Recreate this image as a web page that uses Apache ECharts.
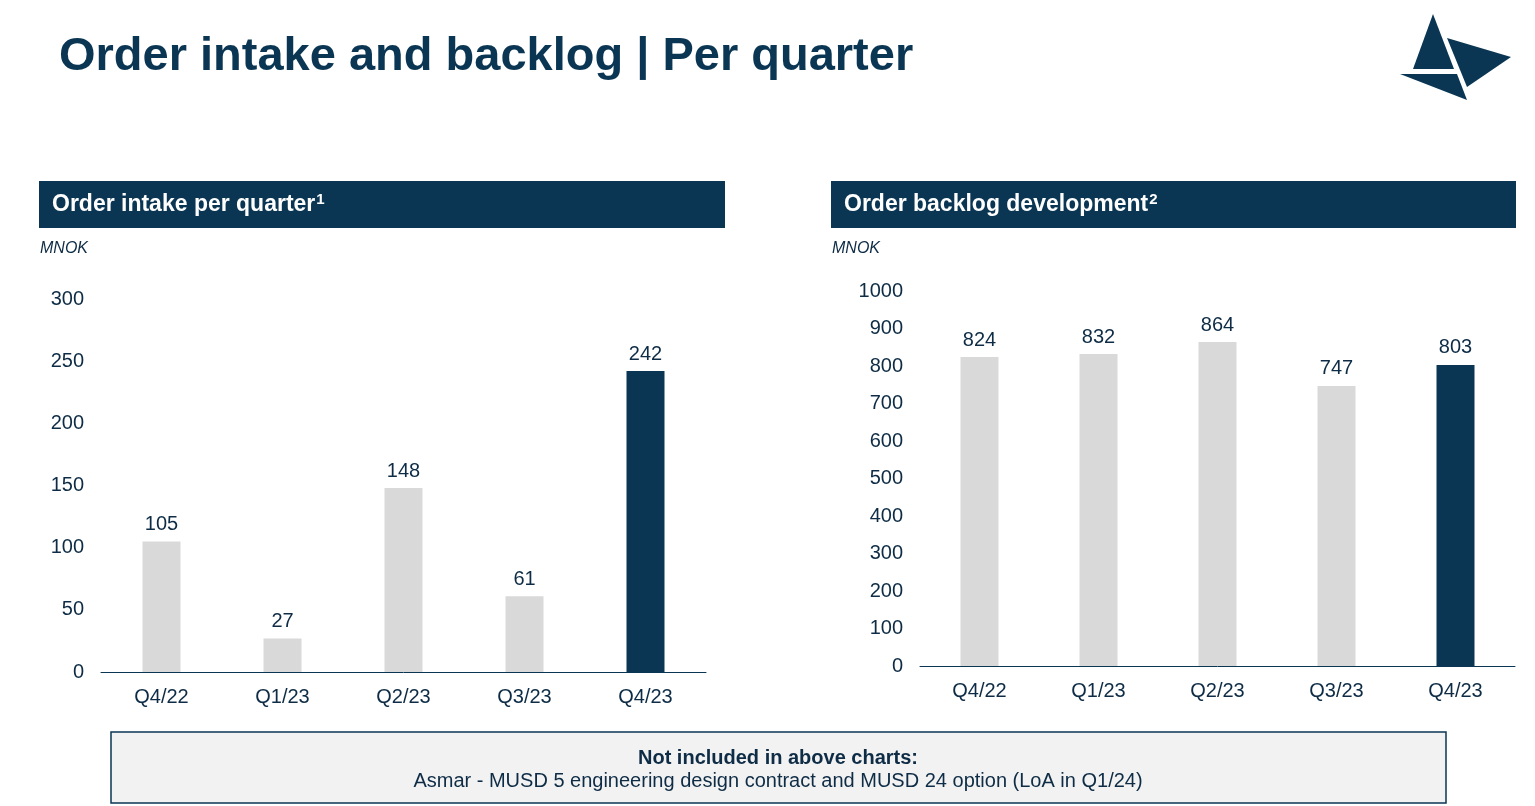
<!DOCTYPE html>
<html>
<head>
<meta charset="utf-8">
<title>Order intake and backlog</title>
<script src="https://cdn.jsdelivr.net/npm/echarts@6/dist/echarts.min.js"></script>
<style>
  html, body { margin: 0; padding: 0; background: #fff; }
  #main { width: 1535px; height: 806px; }
</style>
</head>
<body>
<div id="main"></div>
<script>
// data
var quarters = ['Q4/22', 'Q1/23', 'Q2/23', 'Q3/23', 'Q4/23'];
var orderIntake = [105, 27, 148, 61, 242];
var orderBacklog = [824, 832, 864, 747, 803];
var intakeTicks = [0, 300, 50];   // min, max, interval
var backlogTicks = [0, 1000, 100];

var NAVY = '#0a3653';
var GREY = '#d9d9d9';
var TXT = '#0e2c45';
var FONT = '"Liberation Sans", Arial, sans-serif';

function barData(vals) {
  // last quarter highlighted in navy
  return vals.map(function (v, i) {
    return { value: v, itemStyle: { color: i === vals.length - 1 ? NAVY : GREY } };
  });
}

function header(x, w, txt, sup) {
  return [
    { type: 'rect', shape: { x: x, y: 181, width: w, height: 47 }, style: { fill: NAVY }, silent: true },
    { type: 'text', x: x + 13, y: 205, style: {
        text: '{m|' + txt + '}{s|' + sup + '}',
        rich: {
          m: { fontFamily: FONT, fontWeight: 'bold', fontSize: 23, fill: '#fff' },
          s: { fontFamily: FONT, fontWeight: 'bold', fontSize: 15, fill: '#fff', verticalAlign: 'top', padding: [0, 0, 10, 1] }
        },
        verticalAlign: 'middle'
      } },
    { type: 'text', x: x + 1, y: 249, style: { text: 'MNOK', fontFamily: FONT, fontStyle: 'italic', fontSize: 16, fill: TXT, verticalAlign: 'middle' } }
  ];
}

var chart = echarts.init(document.getElementById('main'), null, { renderer: 'canvas' });

var graphics = [
  { type: 'text', x: 59, y: 57, style: { text: 'Order intake and backlog | Per quarter', fontFamily: FONT, fontWeight: 'bold', fontSize: 47, fill: NAVY, verticalAlign: 'middle' } },
  // logo
  { type: 'polygon', shape: { points: [[1433, 14], [1413, 69], [1454, 69]] }, style: { fill: NAVY } },
  { type: 'polygon', shape: { points: [[1447, 38], [1511, 57], [1467, 87]] }, style: { fill: NAVY } },
  { type: 'polygon', shape: { points: [[1400, 74], [1457, 74], [1467, 100]] }, style: { fill: NAVY } },
  // footnote box
  { type: 'rect', shape: { x: 111, y: 732, width: 1335, height: 71 }, style: { fill: '#f2f2f2', stroke: NAVY, lineWidth: 1.5 } },
  { type: 'text', x: 778, y: 758, style: { text: 'Not included in above charts:', fontFamily: FONT, fontWeight: 'bold', fontSize: 20, fill: TXT, align: 'center', verticalAlign: 'middle' } },
  { type: 'text', x: 778, y: 781, style: { text: 'Asmar - MUSD 5 engineering design contract and MUSD 24 option (LoA in Q1/24)', fontFamily: FONT, fontSize: 20, fill: TXT, align: 'center', verticalAlign: 'middle' } }
].concat(header(39, 686, 'Order intake per quarter', '1'))
 .concat(header(831, 685, 'Order backlog development', '2'));

function xAx(idx) {
  return {
    type: 'category', gridIndex: idx, data: quarters,
    axisLine: { lineStyle: { color: NAVY, width: 1 } },
    axisTick: { show: false },
    axisLabel: { color: TXT, fontFamily: FONT, fontSize: 20, margin: 15 }
  };
}
function yAx(idx, t) {
  return {
    type: 'value', gridIndex: idx, min: t[0], max: t[1], interval: t[2],
    splitLine: { show: false }, axisLine: { show: false }, axisTick: { show: false },
    axisLabel: { color: TXT, fontFamily: FONT, fontSize: 20, margin: 17, padding: [4, 0, 0, 0],
      formatter: function (v) { return String(v); } }
  };
}
function barSeries(idx, vals) {
  return {
    type: 'bar', xAxisIndex: idx, yAxisIndex: idx, data: barData(vals), barWidth: 38,
    label: { show: true, position: 'top', distance: 7, color: TXT, fontFamily: FONT, fontSize: 20 },
    animation: false
  };
}

chart.setOption({
  animation: false,
  graphic: graphics,
  grid: [
    { left: 101, right: 829, top: 299, bottom: 134 },
    { left: 920, right: 20, top: 291, bottom: 140 }
  ],
  xAxis: [xAx(0), xAx(1)],
  yAxis: [yAx(0, intakeTicks), yAx(1, backlogTicks)],
  series: [barSeries(0, orderIntake), barSeries(1, orderBacklog)]
});
</script>
</body>
</html>
